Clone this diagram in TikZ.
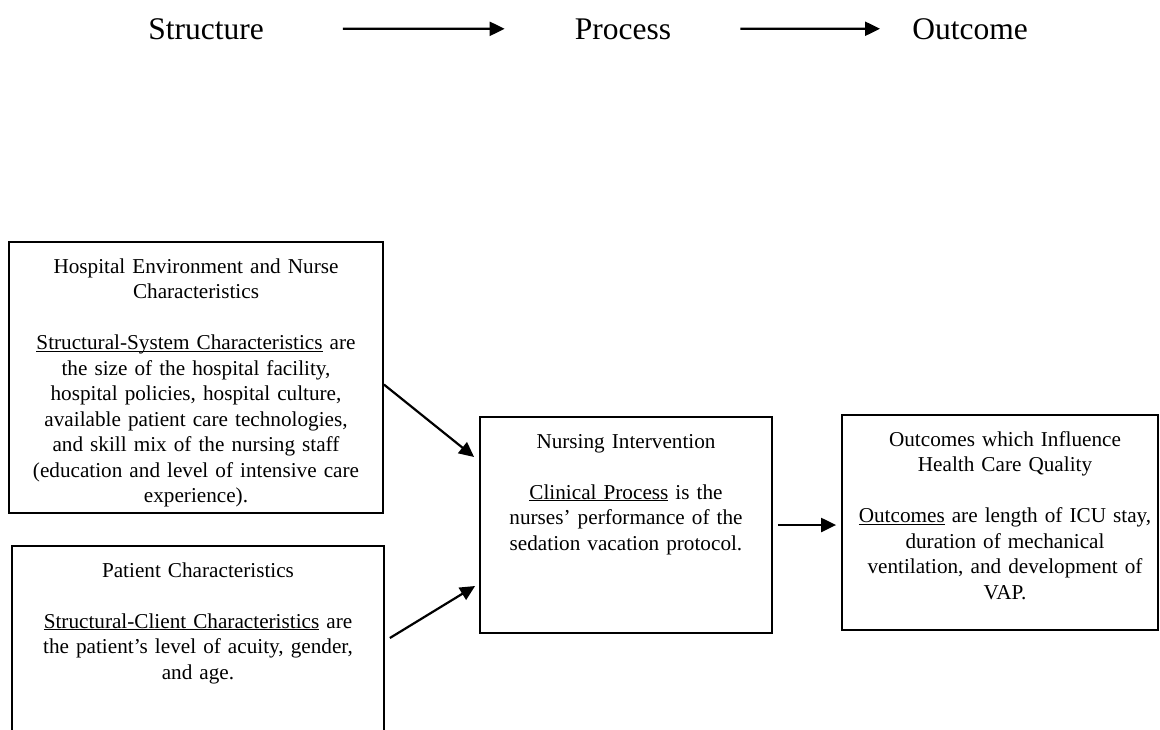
\documentclass[tikz,border=0pt]{standalone}
\usepackage{fontspec}
\setmainfont{Liberation Serif}
\usetikzlibrary{arrows.meta}

\newcommand{\ulined}[1]{\underline{\smash{#1}}}

\begin{document}
\begin{tikzpicture}[x=1pt,y=-1pt,
    panel/.style={draw, line width=1.8pt, inner sep=0pt},
    paneltext/.style={anchor=north, inner sep=0pt, align=center, font=\fontsize{21.2}{25.5}\selectfont},
    stage/.style={anchor=base, inner sep=0pt, font=\fontsize{31.5}{36}\selectfont},
    flow/.style={line width=2.2pt, -{Triangle[length=15pt,width=14pt]}}]
    \useasboundingbox (0,0) rectangle (1160,729);

    % top row
    \node[stage] (structure) at (206,39) {Structure};
    \node[stage] (process) at (623,39) {Process};
    \node[stage] (outcome) at (970,39) {Outcome};
    \draw[flow, shorten <=79pt, shorten >=70pt] (structure.east) -- (process.west);
    \draw[flow, shorten <=69pt, shorten >=32pt] (process.east) -- (outcome.west);

    % boxes
    \node[panel, minimum width=374pt, minimum height=271pt] (hosp) at (196,377.5) {};
    \node[panel, minimum width=372pt, minimum height=214pt] (pat) at (198,653) {};
    \node[panel, minimum width=292pt, minimum height=216pt] (nurse) at (626,525) {};
    \node[panel, minimum width=316pt, minimum height=215pt] (outc) at (1000,522.5) {};

    \node[paneltext, text width=360pt] (hosptxt) at ([yshift=-14pt]hosp.north)
        {\strut Hospital Environment and Nurse\\ Characteristics\\[25.5pt]
         \ulined{Structural-System Characteristics} are\\
         the size of the hospital facility,\\
         hospital policies, hospital culture,\\
         available patient care technologies,\\
         and skill mix of the nursing staff\\
         (education and level of intensive care\\
         experience).};
    \node[paneltext, text width=360pt] (pattxt) at ([yshift=-14pt]pat.north)
        {\strut Patient Characteristics\\[25.5pt]
         \ulined{Structural-Client Characteristics} are\\
         the patient’s level of acuity, gender,\\
         and age.};
    \node[paneltext, text width=280pt] (nursetxt) at ([yshift=-14pt]nurse.north)
        {\strut Nursing Intervention\\[25.5pt]
         \ulined{Clinical Process} is the\\
         nurses’ performance of the\\
         sedation vacation protocol.};
    \node[paneltext, text width=300pt] (outctxt) at ([shift={(5pt,-14pt)}]outc.north)
        {\strut Outcomes which Influence\\ Health Care Quality\\[25.5pt]
         \ulined{Outcomes} are length of ICU stay,\\
         duration of mechanical\\
         ventilation, and development of\\
         VAP.};

    % connectors
    \draw[flow] ([yshift=-7pt]hosp.east) -- ([shift={(-5pt,68pt)}]nurse.west);
    \draw[flow] ([shift={(5pt,15pt)}]pat.east) -- ([shift={(-4pt,-61pt)}]nurse.west);
    \draw[flow, shorten <=5pt, shorten >=5pt] (nurse.east) -- (nurse.east -| outc.west);
\end{tikzpicture}
\end{document}
